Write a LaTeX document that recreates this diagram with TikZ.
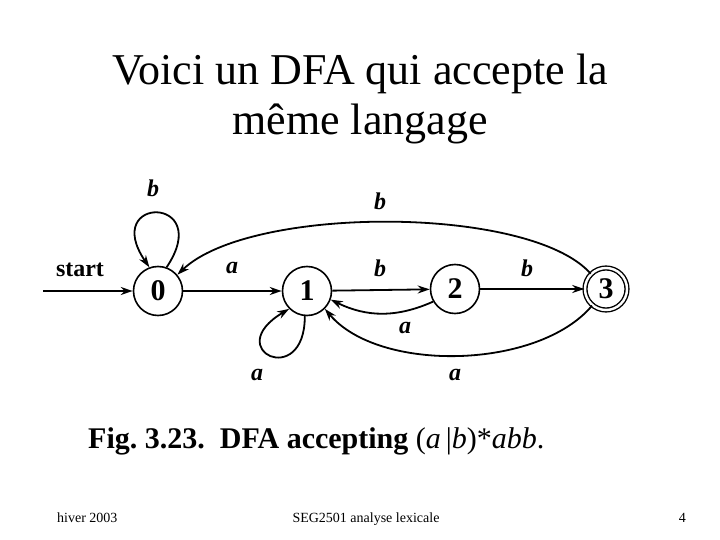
\documentclass[tikz,border=0pt]{standalone}
\usepackage{fontspec}
\setmainfont{Liberation Serif}
\usetikzlibrary{arrows.meta}
\tikzset{
    state/.style={draw, circle, line width=1.6pt, minimum size=49pt, inner sep=0pt, font=\fontsize{30}{30}\selectfont\bfseries},
    accept/.style={draw, circle, line width=1.4pt, double, double distance=2.4pt, minimum size=42pt, inner sep=0pt, font=\fontsize{30}{30}\selectfont\bfseries},
    trans/.style={-{Stealth[length=12pt,width=8pt]}, line width=1.8pt},
    sym/.style={inner sep=0pt, font=\fontsize{24}{24}\selectfont\bfseries\itshape},
}
\frenchspacing
\begin{document}
\begin{tikzpicture}[x=1pt,y=1pt]
    \useasboundingbox (0,0) rectangle (720,-540);
    % title
    \node[anchor=base, align=center, font=\fontsize{44}{50}\selectfont] (title) at (360,-135) {Voici un DFA qui accepte la\\même langage};
    % states
    \node[state] (s0) at (158,-291) {0};
    \node[state] (s1) at (307,-291) {1};
    \node[state] (s2) at (455,-289) {2};
    \node[accept] (s3) at (606,-289) {3};
    \coordinate (entry) at (43,-291);
    \node[inner sep=0pt, font=\fontsize{24}{24}\selectfont\bfseries] (startlabel) at (80,-270) {start};
    % transitions
    \draw[trans] (entry) -- (s0);
    \draw[trans] (s0.70) .. controls (215,-195) and (100,-195) .. (s0.110);
    \draw[trans] (s0) -- (s1);
    \draw[trans] (s1) -- (s2);
    \draw[trans] (s2) -- (s3);
    \draw[trans] (s3.135) .. controls (530,-205) and (250,-205) .. (s0.40);
    \draw[trans] (s1.265) .. controls (305,-390) and (220,-350) .. (s1.225);
    \draw[trans] (s2.210) to[bend left=25] (s1.-20);
    \draw[trans] (s3.230) to[out=230, in=-50, looseness=0.8] (s1.-45);
    % labels
    \node[sym] (lb0) at (153,-188) {b};
    \node[sym] (lb30) at (380,-201) {b};
    \node[sym] (la01) at (232,-268) {a};
    \node[sym] (lb12) at (380,-268) {b};
    \node[sym] (lb23) at (527,-268) {b};
    \node[sym] (la21) at (405,-328) {a};
    \node[sym] (la1) at (257,-375) {a};
    \node[sym] (la31) at (455,-375) {a};
    % caption
    \node[anchor=base west, inner sep=0pt, font=\fontsize{30}{30}\selectfont] (caption) at (88,-448) {\textbf{Fig. 3.23.\ \ DFA accepting} (\textit{a}\,|\textit{b})*\textit{abb}.};
    % footer
    \node[anchor=base west, inner sep=0pt, font=\fontsize{14}{14}\selectfont] (season) at (57,-522) {hiver 2003};
    \node[anchor=base, inner sep=0pt, font=\fontsize{14}{14}\selectfont] (course) at (366,-522) {SEG2501 analyse lexicale};
    \node[anchor=base east, inner sep=0pt, font=\fontsize{14}{14}\selectfont] (page) at (686,-522) {4};
\end{tikzpicture}
\end{document}
